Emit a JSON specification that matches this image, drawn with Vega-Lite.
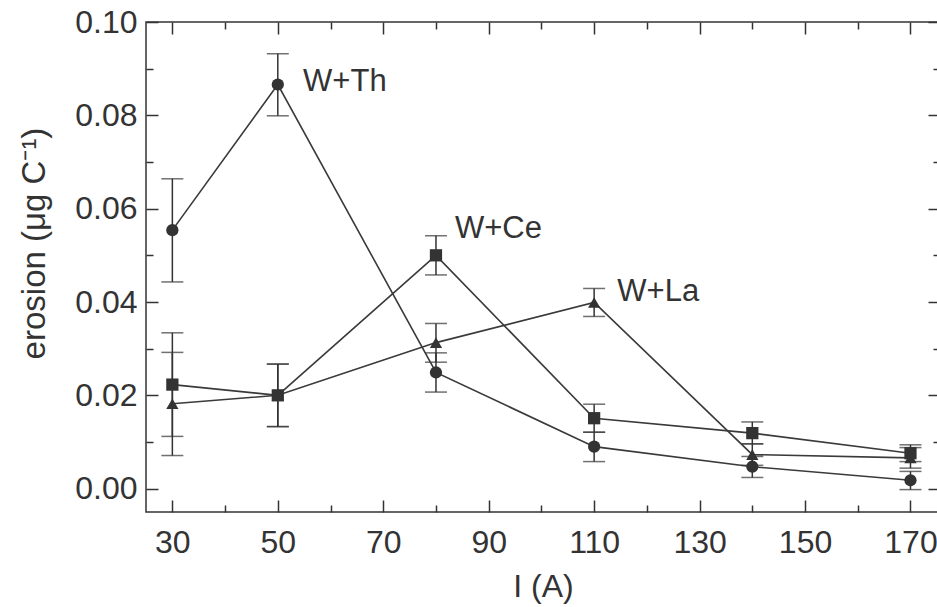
{
  "$schema": "https://vega.github.io/schema/vega-lite/v6.json",
  "width": 794,
  "height": 490,
  "autosize": {"type": "none"},
  "padding": {"left": 146, "top": 22, "right": 0, "bottom": 95},
  "background": "white",
  "config": {
    "view": {"stroke": "#333333", "strokeWidth": 1.5},
    "font": "Liberation Sans",
    "axis": {
      "grid": false,
      "domain": false,
      "tickColor": "#333333",
      "tickWidth": 1.5,
      "labelFont": "Liberation Sans",
      "labelFontSize": 32,
      "labelColor": "#333333",
      "titleFont": "Liberation Sans",
      "titleFontSize": 32,
      "titleFontWeight": "normal",
      "titleColor": "#333333"
    }
  },
  "datasets": {
    "pts": [
      {"series": "W+La", "I": 30, "erosion": 0.0182, "lo": 0.0071, "hi": 0.0292},
      {"series": "W+La", "I": 50, "erosion": 0.0200, "lo": 0.0133, "hi": 0.0267},
      {"series": "W+La", "I": 80, "erosion": 0.0313, "lo": 0.0271, "hi": 0.0354},
      {"series": "W+La", "I": 110, "erosion": 0.0399, "lo": 0.0369, "hi": 0.0429},
      {"series": "W+La", "I": 140, "erosion": 0.0073, "lo": 0.0050, "hi": 0.0096},
      {"series": "W+La", "I": 170, "erosion": 0.0066, "lo": 0.0044, "hi": 0.0088},
      {"series": "W+Ce", "I": 30, "erosion": 0.0223, "lo": 0.0112, "hi": 0.0334},
      {"series": "W+Ce", "I": 50, "erosion": 0.0200, "lo": 0.0133, "hi": 0.0267},
      {"series": "W+Ce", "I": 80, "erosion": 0.0500, "lo": 0.0458, "hi": 0.0542},
      {"series": "W+Ce", "I": 110, "erosion": 0.0151, "lo": 0.0121, "hi": 0.0181},
      {"series": "W+Ce", "I": 140, "erosion": 0.0119, "lo": 0.0096, "hi": 0.0143},
      {"series": "W+Ce", "I": 170, "erosion": 0.0076, "lo": 0.0058, "hi": 0.0094},
      {"series": "W+Th", "I": 30, "erosion": 0.0554, "lo": 0.0443, "hi": 0.0664},
      {"series": "W+Th", "I": 50, "erosion": 0.0866, "lo": 0.0799, "hi": 0.0932},
      {"series": "W+Th", "I": 80, "erosion": 0.0249, "lo": 0.0207, "hi": 0.0291},
      {"series": "W+Th", "I": 110, "erosion": 0.0090, "lo": 0.0058, "hi": 0.0121},
      {"series": "W+Th", "I": 140, "erosion": 0.0047, "lo": 0.0024, "hi": 0.0069},
      {"series": "W+Th", "I": 170, "erosion": 0.0018, "lo": -0.0002, "hi": 0.0037}
    ],
    "labels": [
      {"label": "W+Th", "I": 54.8, "erosion": 0.0872},
      {"label": "W+Ce", "I": 83.6, "erosion": 0.0557},
      {"label": "W+La", "I": 114.4, "erosion": 0.0422}
    ]
  },
  "resolve": {"axis": {"x": "independent", "y": "independent"}},
  "layer": [
    {
      "data": {"name": "pts"},
      "mark": {"type": "rule", "color": "#333333", "strokeWidth": 1.5},
      "encoding": {
        "x": {
          "field": "I", "type": "quantitative",
          "scale": {"domain": [25, 175.6], "nice": false, "zero": false},
          "axis": {
            "orient": "bottom",
            "title": "I (A)",
            "values": [30, 40, 50, 60, 70, 80, 90, 100, 110, 120, 130, 140, 150, 160, 170],
            "labelExpr": "datum.value % 20 == 10 ? datum.label : ''",
            "tickSize": {"condition": {"test": "datum.value % 20 == 10", "value": -12}, "value": -7},
            "labelPadding": 27,
            "titlePadding": 13
          }
        },
        "y": {
          "field": "lo", "type": "quantitative",
          "scale": {"domain": [-0.005, 0.1], "nice": false, "zero": false},
          "axis": {
            "orient": "left",
            "title": "erosion (μg C⁻¹)",
            "titleFontSize": 33,
            "titleBaseline": "middle",
            "titleX": -112,
            "titleY": 221,
            "values": [0, 0.01, 0.02, 0.03, 0.04, 0.05, 0.06, 0.07, 0.08, 0.09, 0.1],
            "labelExpr": "round(datum.value * 100) % 2 == 0 ? format(datum.value, '.2f') : ''",
            "tickSize": {"condition": {"test": "round(datum.value * 100) % 2 == 0", "value": -12}, "value": -7},
            "labelPadding": 21
          }
        },
        "y2": {"field": "hi"}
      }
    },
    {
      "data": {"name": "pts"},
      "mark": {"type": "tick", "orient": "horizontal", "color": "#333333", "size": 22, "thickness": 1.5},
      "encoding": {
        "x": {"field": "I", "type": "quantitative", "scale": {"domain": [25, 175.6], "nice": false, "zero": false}, "axis": null},
        "y": {"field": "lo", "type": "quantitative", "scale": {"domain": [-0.005, 0.1], "nice": false, "zero": false}, "axis": null}
      }
    },
    {
      "data": {"name": "pts"},
      "mark": {"type": "tick", "orient": "horizontal", "color": "#333333", "size": 22, "thickness": 1.5},
      "encoding": {
        "x": {"field": "I", "type": "quantitative", "scale": {"domain": [25, 175.6], "nice": false, "zero": false}, "axis": null},
        "y": {"field": "hi", "type": "quantitative", "scale": {"domain": [-0.005, 0.1], "nice": false, "zero": false}, "axis": null}
      }
    },
    {
      "data": {"name": "pts"},
      "mark": {"type": "line", "color": "#3a3a3a", "strokeWidth": 1.6},
      "encoding": {
        "x": {
          "field": "I", "type": "quantitative",
          "scale": {"domain": [25, 175.6], "nice": false, "zero": false},
          "axis": {
            "orient": "top", "title": null, "labels": false,
            "values": [30, 40, 50, 60, 70, 80, 90, 100, 110, 120, 130, 140, 150, 160, 170],
            "tickSize": {"condition": {"test": "datum.value % 20 == 10", "value": -12}, "value": -7}
          }
        },
        "y": {
          "field": "erosion", "type": "quantitative",
          "scale": {"domain": [-0.005, 0.1], "nice": false, "zero": false},
          "axis": {
            "orient": "right", "title": null, "labels": false,
            "values": [0, 0.01, 0.02, 0.03, 0.04, 0.05, 0.06, 0.07, 0.08, 0.09, 0.1],
            "tickSize": {"condition": {"test": "round(datum.value * 100) % 2 == 0", "value": -12}, "value": -7}
          }
        },
        "detail": {"field": "series", "type": "nominal"}
      }
    },
    {
      "data": {"name": "pts"},
      "mark": {"type": "point", "filled": true, "color": "#333333", "opacity": 1, "size": 150},
      "encoding": {
        "x": {"field": "I", "type": "quantitative", "scale": {"domain": [25, 175.6], "nice": false, "zero": false}, "axis": null},
        "y": {"field": "erosion", "type": "quantitative", "scale": {"domain": [-0.005, 0.1], "nice": false, "zero": false}, "axis": null},
        "shape": {
          "field": "series", "type": "nominal",
          "scale": {"domain": ["W+Th", "W+Ce", "W+La"], "range": ["circle", "square", "triangle-up"]},
          "legend": null
        }
      }
    },
    {
      "data": {"name": "labels"},
      "mark": {"type": "text", "align": "left", "baseline": "middle", "font": "Liberation Sans", "fontSize": 31, "color": "#333333"},
      "encoding": {
        "x": {"field": "I", "type": "quantitative", "scale": {"domain": [25, 175.6], "nice": false, "zero": false}, "axis": null},
        "y": {"field": "erosion", "type": "quantitative", "scale": {"domain": [-0.005, 0.1], "nice": false, "zero": false}, "axis": null},
        "text": {"field": "label", "type": "nominal"}
      }
    }
  ]
}
